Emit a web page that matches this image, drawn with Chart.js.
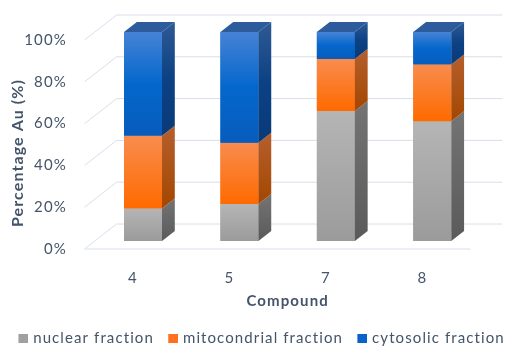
<!DOCTYPE html>
<html><head><meta charset="utf-8">
<script src="https://cdn.jsdelivr.net/npm/chart.js@4.4.0/dist/chart.umd.min.js"></script>
<style>html,body{margin:0;padding:0;background:#fff;overflow:hidden}</style>
</head><body>
<canvas id="c" width="511" height="347" style="display:block;width:511px;height:347px"></canvas>
<script>
const categories = ['4', '5', '7', '8'];
const nuclear = [15.6, 17.7, 62.2, 57.3];
const mitocondrial = [34.8, 29.3, 24.9, 27.2];
const cytosolic = [49.6, 53.0, 12.9, 15.5];
const seriesNames = ['nuclear fraction', 'mitocondrial fraction', 'cytosolic fraction'];
const yTickValues = [0, 20, 40, 60, 80, 100];
const xTitle = 'Compound';
const yTitle = 'Percentage Au (%)';

const FONT = 'Lato';
const TXT = '#44546a';
const GRID = '#d8dee9';
const SPACING = '1.1px';
const DX = 12.8, DY = -10;          // bar depth
const FX = 32, FY = -25, FF = 0.32; // floor depth & bar position within it

const faces = [
  {front: ['#b5b5b5', '#9b9b9b'], side: ['#747474', '#5a5a5a'], top: '#8a8a8a'},
  {front: ['#f88c4e', '#ff6a00'], side: ['#b55f2e', '#a34700'], top: '#c0602a'},
  {front: ['#4683d6', '#0467cc', '#075cbc'], side: ['#2f5a94', '#0c4184', '#093a78'], top: '#2e5b9c'}
];
const legendCols = ['#a0a0a0', '#ff7020', '#0a62c8'];

function grad(ctx, y0, y1, cols) {
  const g = ctx.createLinearGradient(0, y0, 0, y1);
  cols.forEach((c, i) => g.addColorStop(cols.length === 1 ? 0 : i / (cols.length - 1), c));
  return g;
}

// legend marker: square placed at the right of a wider transparent canvas
const PW = 19.5;
function marker(color) {
  const c = document.createElement('canvas');
  c.width = 25; c.height = 9;
  const g = c.getContext('2d');
  g.fillStyle = color;
  g.fillRect(15, 0, 10, 9);
  return c;
}
const markers = legendCols.map(marker);

const spacing = {
  id: 'spacing',
  beforeInit(chart) { chart.ctx.letterSpacing = SPACING; },
  beforeUpdate(chart) { chart.ctx.letterSpacing = SPACING; },
  beforeLayout(chart) { chart.ctx.letterSpacing = SPACING; },
  beforeDraw(chart) { chart.ctx.letterSpacing = SPACING; }
};

const threeD = {
  id: 'threeD',
  beforeDatasetsDraw(chart) {
    const ctx = chart.ctx, ys = chart.scales.y, a = chart.chartArea;
    const fx0 = -FF * FX, fy0 = -FF * FY;
    ctx.save();
    ctx.strokeStyle = GRID;
    ctx.lineWidth = 1;
    yTickValues.forEach(v => {
      const y = ys.getPixelForValue(v);
      ctx.beginPath();
      ctx.moveTo(a.left + fx0 + FX, y + fy0 + FY);
      ctx.lineTo(a.right + fx0 + FX, y + fy0 + FY);
      ctx.stroke();
      ctx.beginPath();
      ctx.moveTo(a.left + fx0, y + fy0);
      ctx.lineTo(a.left + fx0 + FX, y + fy0 + FY);
      ctx.stroke();
    });
    const y0 = ys.getPixelForValue(0);
    ctx.beginPath();
    ctx.moveTo(a.left + fx0, y0 + fy0);
    ctx.lineTo(a.right + fx0, y0 + fy0);
    ctx.stroke();
    ctx.restore();
  },
  afterDatasetsDraw(chart) {
    const ctx = chart.ctx;
    const n = chart.data.labels.length;
    const nd = chart.data.datasets.length;
    ctx.save();
    for (let i = 0; i < n; i++) {
      for (let d = 0; d < nd; d++) {
        const el = chart.getDatasetMeta(d).data[i];
        const p = el.getProps(['x', 'y', 'base', 'width'], true);
        const l = p.x - p.width / 2, r = p.x + p.width / 2, t = p.y, b = p.base;
        const f = faces[d];
        ctx.fillStyle = grad(ctx, t, b, f.front);
        ctx.fillRect(l, t, r - l, b - t);
        ctx.fillStyle = grad(ctx, t + DY, b, f.side);
        ctx.beginPath();
        ctx.moveTo(r, t); ctx.lineTo(r + DX, t + DY); ctx.lineTo(r + DX, b + DY); ctx.lineTo(r, b);
        ctx.closePath(); ctx.fill();
        if (d === nd - 1) {
          ctx.fillStyle = f.top;
          ctx.beginPath();
          ctx.moveTo(l, t); ctx.lineTo(l + DX, t + DY); ctx.lineTo(r + DX, t + DY); ctx.lineTo(r, t);
          ctx.closePath(); ctx.fill();
        }
      }
    }
    ctx.restore();
  },
  afterDraw(chart) {
    const ctx = chart.ctx;
    ctx.save();
    ctx.letterSpacing = SPACING;
    ctx.translate(18, 153);
    ctx.rotate(-Math.PI / 2);
    ctx.font = 'bold 16px ' + FONT;
    ctx.fillStyle = TXT;
    ctx.textAlign = 'center';
    ctx.textBaseline = 'middle';
    ctx.fillText(yTitle, 0, 0);
    ctx.restore();
  }
};

const dataArrays = [nuclear, mitocondrial, cytosolic];

new Chart(document.getElementById('c'), {
  type: 'bar',
  data: {
    labels: categories,
    datasets: dataArrays.map((arr, k) => ({
      label: seriesNames[k],
      data: arr,
      backgroundColor: legendCols[k],
      borderWidth: 0,
      categoryPercentage: 1,
      barPercentage: 0.394
    }))
  },
  options: {
    responsive: false,
    animation: false,
    devicePixelRatio: 1,
    layout: {padding: {left: 0, right: 0, top: 32, bottom: 0}},
    plugins: {
      tooltip: {enabled: false},
      legend: {
        position: 'bottom',
        maxHeight: 18.5,
        labels: {
          usePointStyle: true, pointStyleWidth: PW, boxHeight: 9, padding: 2,
          color: TXT, font: {family: FONT, size: 15},
          generateLabels(chart) {
            return Chart.defaults.plugins.legend.labels.generateLabels(chart).map((it, k) => {
              it.pointStyle = markers[k];
              return it;
            });
          }
        }
      }
    },
    scales: {
      x: {
        stacked: true,
        grid: {display: false, drawTicks: false},
        border: {display: false},
        ticks: {color: TXT, font: {family: FONT, size: 15}, padding: 28, labelOffset: -10},
        title: {display: true, text: xTitle, color: TXT, font: {family: FONT, size: 15, weight: 'bold'}, padding: {top: 0, bottom: 18.5}},
        afterFit(s) { s.height = 87.5; }
      },
      y: {
        stacked: true,
        min: 0, max: 100,
        afterBuildTicks(s) { s.ticks = yTickValues.map(v => ({value: v})); },
        grid: {display: false, drawTicks: false},
        border: {display: false},
        ticks: {color: TXT, font: {family: FONT, size: 15}, padding: 28, labelOffset: 8, callback: v => v + '%'},
        afterFit(s) { s.width = 94.8; s.paddingTop = 0; s.paddingBottom = 0; }
      },
      yRight: {
        position: 'right',
        display: true,
        grid: {display: false, drawTicks: false},
        border: {display: false},
        ticks: {display: false},
        afterFit(s) { s.width = 30.5; s.paddingTop = 0; s.paddingBottom = 0; }
      }
    }
  },
  plugins: [spacing, threeD]
});
</script>
</body></html>
